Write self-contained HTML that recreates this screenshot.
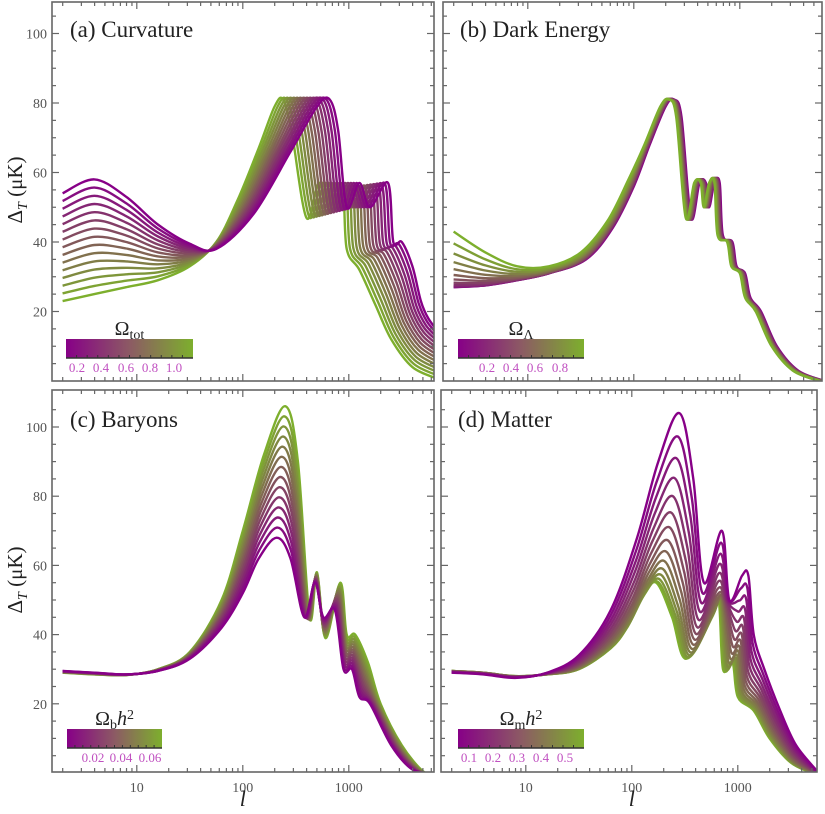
<!DOCTYPE html>
<html><head><meta charset="utf-8">
<style>
html,body{margin:0;padding:0;background:#fff;}
svg{display:block;}
text{font-family:"Liberation Serif",serif;}
</style></head>
<body>
<svg id="s" width="825" height="814" viewBox="0 0 825 814" xmlns="http://www.w3.org/2000/svg">
<defs>
<linearGradient id="cb" x1="0" x2="1" y1="0" y2="0">
<stop offset="0" stop-color="rgb(135,0,135)"/>
<stop offset="0.5" stop-color="rgb(140,90,100)"/>
<stop offset="1" stop-color="rgb(125,175,45)"/>
</linearGradient>
<clipPath id="cA"><rect x="52" y="2" width="382" height="379"/></clipPath>
<clipPath id="cB"><rect x="443" y="2" width="379" height="379"/></clipPath>
<clipPath id="cC"><rect x="52" y="390" width="382" height="382"/></clipPath>
<clipPath id="cD"><rect x="441" y="390" width="376" height="382"/></clipPath>
</defs>
<g id="g"></g>
</svg>
<script>
(function(){
var NS="http://www.w3.org/2000/svg", G=document.getElementById("g");
function el(t,a,p){var e=document.createElementNS(NS,t);for(var k in a)e.setAttribute(k,a[k]);(p||G).appendChild(e);return e;}
function txt(x,y,s,a){var e=el("text",Object.assign({x:x,y:y},a||{}));e.innerHTML=s;return e;}
var panels=[
 {x0:52,x1:434,y0:2,y1:381,xo:52,yb:381,ys:3.475,clip:"cA",n:15,order:-1,tm:function(t){return t;},
  P:[[0.3,54],[0.6,58],[0.9,53],[1.2,45],[1.5,39.5],[1.75,38],[2.1,48],[2.45,66],[2.7,79],[2.82,81],[2.9,72],[2.98,50],[3.1,57],[3.2,50],[3.37,57],[3.42,40],[3.5,40],[3.6,33],[3.68,23],[3.75,18],[3.85,14]],
  Q:[[0.3,23],[0.6,25],[0.9,27],[1.2,29],[1.5,33],[1.75,40],[1.95,52],[2.15,67],[2.3,79],[2.38,81],[2.46,72],[2.6,47],[2.72,57],[2.82,50],[2.94,55],[2.98,38],[3.1,32],[3.25,22],[3.4,12],[3.6,4],[3.85,0.5]]},
 {x0:443,x1:822,y0:2,y1:381,xo:443,yb:381,ys:3.475,clip:"cB",n:12,order:1,tm:function(t){return Math.pow(t,2.5);},
  P:null,Q:null},
 {x0:52,x1:434,y0:390,y1:772,xo:52,yb:773,ys:3.46,clip:"cC",n:14,order:-1,tm:function(t){return t;},
  P:[[0.3,29.5],[0.6,29],[0.9,28.5],[1.2,29.5],[1.5,33],[1.8,42],[2.0,52],[2.15,62],[2.32,68],[2.45,62],[2.58,45],[2.68,55],[2.76,45],[2.87,47],[2.95,30],[3.03,30],[3.1,22],[3.2,20],[3.4,8],[3.6,1],[3.8,0]],
  Q:[[0.3,29],[0.6,28.5],[0.9,28.3],[1.2,30],[1.5,35],[1.8,50],[2.0,70],[2.2,92],[2.4,106],[2.52,90],[2.63,45],[2.7,58],[2.78,39],[2.92,55],[2.98,40],[3.06,40],[3.18,32],[3.3,20],[3.5,8],[3.7,0.5],[3.8,0]]},
 {x0:441,x1:817,y0:390,y1:772,xo:441,yb:773,ys:3.46,clip:"cD",n:15,order:-1,tm:function(t){return 1-(1-t)*(1-t);},
  P:[[0.3,29],[0.6,28.5],[0.9,27.5],[1.2,29],[1.5,34],[1.8,47],[2.05,68],[2.25,90],[2.45,104],[2.58,85],[2.68,55],[2.85,70],[2.92,50],[3.04,57],[3.1,57],[3.15,40],[3.25,30],[3.4,18],[3.55,8],[3.75,0.5]],
  Q:[[0.3,29.5],[0.6,29],[0.9,28],[1.2,28.5],[1.5,30],[1.8,36],[1.95,42],[2.1,51],[2.23,55],[2.38,45],[2.51,33],[2.75,45],[2.82,50],[2.86,30],[2.95,32],[3.0,22],[3.15,18],[3.3,10],[3.5,3],[3.7,0]]}
];
var bq=[[0.3,43],[0.6,37],[0.9,33],[1.2,33],[1.5,37],[1.75,46],[1.95,58],[2.1,68],[2.25,79],[2.33,81],[2.4,76],[2.49,47],[2.57,57],[2.63,57],[2.66,50],[2.71,57],[2.76,57],[2.79,42],[2.88,40],[2.92,33],[3.0,31],[3.05,24],[3.15,20],[3.3,10],[3.5,3],[3.75,0]];
var bp=bq.map(function(p,i){var v=p[1];if(i==0)v=27;if(i==1)v=27.5;if(i==2)v=29;if(i==3)v=31;if(i==4)v=35;if(i==5)v=44;if(i==6)v=56;return [i<4?p[0]:p[0]+0.05,v];});
panels[1].P=bp;panels[1].Q=bq;

function path(pts){
 var d="M"+pts[0][0].toFixed(1)+","+pts[0][1].toFixed(1);
 for(var i=0;i<pts.length-1;i++){
  var p0=pts[Math.max(0,i-1)],p1=pts[i],p2=pts[i+1],p3=pts[Math.min(pts.length-1,i+2)];
  var c1=[p1[0]+(p2[0]-p0[0])/6,p1[1]+(p2[1]-p0[1])/6];
  var c2=[p2[0]-(p3[0]-p1[0])/6,p2[1]-(p3[1]-p1[1])/6];
  d+="C"+c1[0].toFixed(1)+","+c1[1].toFixed(1)+" "+c2[0].toFixed(1)+","+c2[1].toFixed(1)+" "+p2[0].toFixed(1)+","+p2[1].toFixed(1);
 }
 return d;
}
panels.forEach(function(P){
 var gg=el("g",{"clip-path":"url(#"+P.clip+")"});
 var idx=[];for(var i=0;i<P.n;i++)idx.push(i);
 if(P.order<0)idx.reverse();
 idx.forEach(function(i){
  var t=i/(P.n-1), s=P.tm(t);
  var pts=P.P.map(function(p,k){var q=P.Q[k];
   var L=p[0]+(q[0]-p[0])*t, v=p[1]+(q[1]-p[1])*s;
   return [P.xo+(L-0.2)*106, P.yb-v*P.ys];});
  var r=Math.round(135+(125-135)*t),g2=Math.round(0+175*t),b=Math.round(135+(45-135)*t);
  el("path",{d:path(pts),fill:"none",stroke:"rgb("+r+","+g2+","+b+")","stroke-width":2.4,"stroke-linejoin":"round"},gg);
 });
 el("rect",{x:P.x0,y:P.y0,width:P.x1-P.x0,height:P.y1-P.y0,fill:"none",stroke:"#666","stroke-width":1.6});
 for(var v=5;v<=105;v+=5){var y=P.yb-v*P.ys;if(y<P.y0+2||y>P.y1-2)continue;var len=(v%20==0)?7:4;
  el("line",{x1:P.x0,x2:P.x0+len,y1:y,y2:y,stroke:"#666","stroke-width":1.2});
  el("line",{x1:P.x1,x2:P.x1-len,y1:y,y2:y,stroke:"#666","stroke-width":1.2});
  if(v%20==0&&P.x0<100)txt(P.x0-5,y+5,String(v),{"font-size":14,fill:"#555","text-anchor":"end"});}
 for(var dec=0;dec<4;dec++)for(var m=1;m<10;m++){var L=dec+Math.log10(m);var x=P.xo+(L-0.2)*106;if(x<P.x0+2||x>P.x1-2)continue;var len=(m==1)?7:4;
  el("line",{x1:x,x2:x,y1:P.y1,y2:P.y1-len,stroke:"#666","stroke-width":1.2});
  el("line",{x1:x,x2:x,y1:P.y0,y2:P.y0+len,stroke:"#666","stroke-width":1.2});}
 if(P.y0>300){[[1,"10"],[2,"100"],[3,"1000"]].forEach(function(a){txt(P.xo+(a[0]-0.2)*106,P.y1+20,a[1],{"font-size":14,fill:"#555","text-anchor":"middle"});});
  txt(P.xo+(2-0.2)*106,806,"l",{"font-size":22,"font-style":"italic",fill:"#222","text-anchor":"middle"});}
});
txt(70,37,"(a) Curvature",{"font-size":23,fill:"#222"});
txt(460,37,"(b) Dark Energy",{"font-size":23,fill:"#222"});
txt(70,427,"(c) Baryons",{"font-size":23,fill:"#222"});
txt(458,427,"(d) Matter",{"font-size":23,fill:"#222"});
[190,580].forEach(function(cy){txt(0,0,'Δ<tspan font-size="14" font-style="italic" dy="5">T</tspan><tspan dy="-5"> (μK)</tspan>',{"font-size":21,fill:"#222","text-anchor":"middle",transform:"translate(22,"+cy+") rotate(-90)"});});
function cbar(x,y,w,lab,labs){
 el("rect",{x:x,y:y,width:w,height:19,fill:"url(#cb)"});
 el("line",{x1:x,x2:x+w,y1:y+19,y2:y+19,stroke:"#333","stroke-width":1.5});
 for(var i=1;i<12;i++){var xx=x+w*i/12;el("line",{x1:xx,x2:xx,y1:y+19,y2:y+16,stroke:"#333","stroke-width":1});}
 txt(x+w/2,y-4,lab,{"font-size":20,fill:"#222","text-anchor":"middle"});
 labs.forEach(function(l){txt(l[0],y+33,l[1],{"font-size":13,fill:"#c050c0","text-anchor":"middle"});});
}
cbar(66,339,127,'Ω<tspan font-size="14" dy="4">tot</tspan>',[[77,"0.2"],[101,"0.4"],[126,"0.6"],[150,"0.8"],[174,"1.0"]]);
cbar(458,339,126,'Ω<tspan font-size="14" dy="4">Λ</tspan>',[[487,"0.2"],[511,"0.4"],[535,"0.6"],[560,"0.8"]]);
cbar(67,729,95,'Ω<tspan font-size="14" dy="4">b</tspan><tspan dy="-4" font-style="italic">h</tspan><tspan font-size="14" dy="-6">2</tspan>',[[93,"0.02"],[121,"0.04"],[150,"0.06"]]);
cbar(458,729,126,'Ω<tspan font-size="14" dy="4">m</tspan><tspan dy="-4" font-style="italic">h</tspan><tspan font-size="14" dy="-6">2</tspan>',[[469,"0.1"],[493,"0.2"],[517,"0.3"],[541,"0.4"],[565,"0.5"]]);
})();
</script>
</body></html>
